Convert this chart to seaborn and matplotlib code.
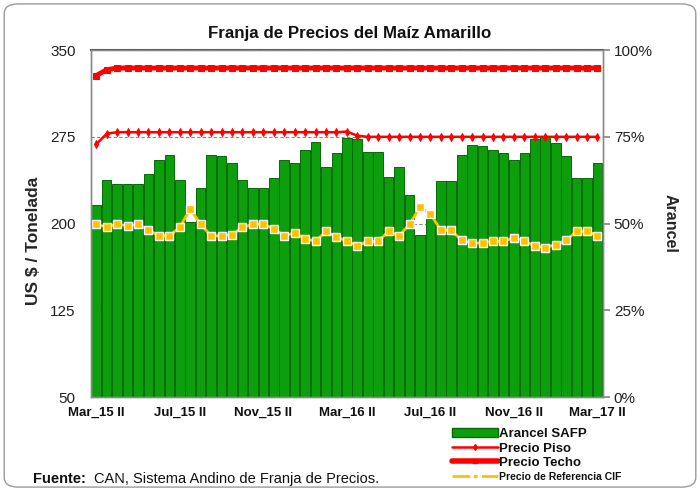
import numpy as np
import pandas as pd
import matplotlib
matplotlib.use("Agg")
import matplotlib.pyplot as plt
from matplotlib.patches import FancyBboxPatch, Patch
from matplotlib.lines import Line2D
import seaborn as sns

sns.set_theme(style="white")
plt.rcParams['font.family'] = ['Liberation Sans', 'DejaVu Sans']

meses = ["Ene", "Feb", "Mar", "Abr", "May", "Jun", "Jul", "Ago", "Sep", "Oct", "Nov", "Dic"]
periodos = []
for k in range(49):
    m = 2 + (k + 1) // 2
    y = 15 + m // 12
    half = "II" if k % 2 == 0 else "I"
    periodos.append(f"{meses[m % 12]}_{y} {half}")

arancel = [55.3, 62.5, 61.4, 61.4, 61.4, 64.2, 68.3, 69.7, 62.5, 50.4,
           60.2, 69.7, 69.6, 67.5, 62.5, 60.3, 60.3, 63.2, 68.3, 67.5,
           71.2, 73.5, 66.3, 70.4, 74.6, 74.5, 70.5, 70.5, 63.3, 66.2,
           58.2, 46.8, 51.2, 62.2, 62.2, 69.7, 72.5, 72.3, 71.2, 70.4,
           68.3, 70.4, 74.5, 75.3, 73.3, 69.5, 63.2, 63.2, 67.5]

precio_cif = [199.3, 197.0, 199.3, 198.2, 199.3, 194.6, 189.4, 189.4, 196.7, 212.9,
              199.3, 189.4, 189.4, 190.4, 196.7, 199.3, 199.3, 195.6, 189.4, 191.8,
              187.0, 184.6, 193.3, 188.3, 185.0, 180.6, 184.6, 184.6, 193.3, 189.4,
              199.3, 214.3, 208.6, 194.1, 194.1, 185.5, 183.1, 183.1, 184.6, 184.6,
              187.8, 184.6, 180.6, 179.2, 181.8, 185.5, 193.3, 193.3, 189.4]

precio_piso = [268.5, 277.7] + [279.0] * 22 + [279.5, 276.0] + [275.0] * 23
precio_techo = [328.0, 333.0] + [334.5] * 47

tick_labels = ["Mar_15 II", "Jul_15 II", "Nov_15 II", "Mar_16 II", "Jul_16 II", "Nov_16 II", "Mar_17 II"]

df = pd.DataFrame({"periodo": periodos, "arancel": arancel, "cif": precio_cif,
                   "piso": precio_piso, "techo": precio_techo})
df["idx"] = np.arange(len(df))

fig = plt.figure(figsize=(7.0, 4.91), dpi=100)
fig.patches.append(FancyBboxPatch((0.006, 0.008), 0.988, 0.984, boxstyle="round,pad=0,rounding_size=0.02",
                                  transform=fig.transFigure, facecolor="white", edgecolor="#9a9a9a",
                                  linewidth=1.0, zorder=-10))
ax1 = fig.add_axes([0.130, 0.1914, 0.731, 0.7066])
ax2 = ax1.twinx()

# bars on right axis
sns.barplot(data=df, x="periodo", y="arancel", ax=ax2, color="#0C9E0C", width=0.92,
            edgecolor="#066806", linewidth=0.7, saturation=1)
ax2.set_ylim(0, 100)
ax2.set_yticks([0, 25, 50, 75, 100])
ax2.set_yticklabels(["0%", "25%", "50%", "75%", "100%"], fontsize=11, color="#222222")
ax2.yaxis.grid(True, color="#888888", linestyle=(0, (3, 2)), linewidth=0.8)
ax2.set_axisbelow(True)
ax2.set_ylabel("Arancel", rotation=270, fontsize=11.5, fontweight="bold")
ax2.yaxis.set_label_coords(1.147, 0.50)
ax2.tick_params(axis="y", length=5, color="#888888", pad=3, right=True)

# lines on left axis
sns.lineplot(data=df, x="idx", y="techo", ax=ax1, color="#FF0000", linewidth=3.5,
             marker="s", markersize=4, markeredgecolor="#FF0000")
sns.lineplot(data=df, x="idx", y="piso", ax=ax1, color="#FF0000", linewidth=1.8,
             marker="d", markersize=4, markeredgecolor="#FF0000")
sns.lineplot(data=df, x="idx", y="cif", ax=ax1, color="#FFC000", linewidth=2.0,
             marker="s", markersize=6, markerfacecolor="#FFC000", markeredgecolor="white",
             markeredgewidth=1.0)
ax1.set_ylim(50, 350)
ax1.set_yticks([50, 125, 200, 275, 350])
ax1.tick_params(axis="y", labelsize=11, length=0, pad=11, labelcolor="#222222")
ax1.set_ylabel("US $ / Tonelada", fontsize=12.5, fontweight="bold")
ax1.yaxis.set_label_coords(-0.097, 0.45)
ax1.set_xlabel("")
ax2.set_xlabel("")
ax1.set_zorder(ax2.get_zorder() + 1)
ax1.patch.set_visible(False)

ax1.set_xlim(-0.5, 48.5)
ax2.set_xlim(-0.5, 48.5)
pos = [periodos.index(t) for t in tick_labels]
ax1.set_xticks(pos)
ax1.set_xticklabels(tick_labels, fontsize=9.5, fontweight="bold", color="#111111")
ax1.tick_params(axis="x", length=0, pad=7)
ax2.tick_params(axis="x", bottom=False, labelbottom=False)

for a in (ax1, ax2):
    for s in a.spines.values():
        s.set_color("#8a8a8a")
        s.set_linewidth(1.0)
ax2.spines["top"].set_color("#555555")
ax2.spines["top"].set_linewidth(1.5)

fig.text(0.5, 0.922, "Franja de Precios del Maíz Amarillo", ha="center", fontsize=12.2,
         fontweight="bold", color="#111111")

handles = [Patch(facecolor="#0C9E0C", edgecolor="#066806"),
           Line2D([], [], color="#FF0000", linewidth=1.8, marker="d", markersize=3),
           Line2D([], [], color="#FF0000", linewidth=4, marker="s", markersize=3),
           Line2D([], [], color="#FFC000", linewidth=2, linestyle="-.", marker="s", markersize=2)]
labels = ["Arancel SAFP", "Precio Piso", "Precio Techo", "Precio de Referencia CIF"]
leg = fig.legend(handles, labels, loc="upper left", bbox_to_anchor=(0.645, 0.128),
                 frameon=False, fontsize=9.5, handlelength=3.5, handleheight=0.6,
                 handletextpad=0.1, labelspacing=0.18, borderpad=0, borderaxespad=0)
for t in leg.get_texts():
    t.set_fontweight("bold")
    t.set_color("#111111")
leg.get_texts()[3].set_fontsize(7.5)

fig.text(0.047, 0.016, "Fuente:", fontsize=10.5, fontweight="bold", color="#111111")
fig.text(0.135, 0.016, "CAN, Sistema Andino de Franja de Precios.", fontsize=10.5, color="#111111")

fig.savefig("out.png", dpi=100)
